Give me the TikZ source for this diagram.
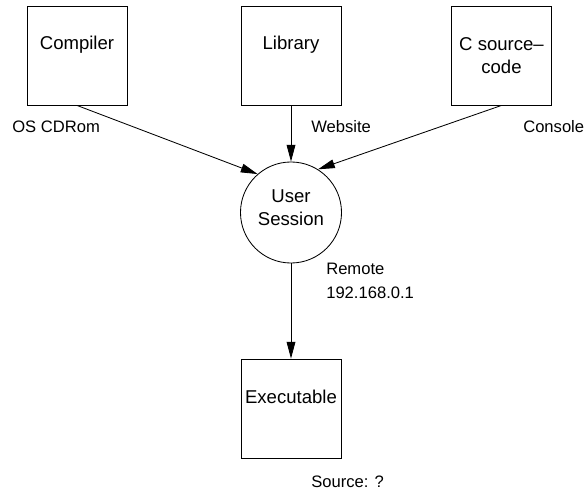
\documentclass[tikz,border=0pt]{standalone}
\usepackage{fontspec}
\setmainfont{Liberation Sans}
\usetikzlibrary{arrows.meta}

\begin{document}
\begin{tikzpicture}[x=0.025cm,y=-0.025cm,
  font=\fontsize{13.2}{16}\selectfont,
  box/.style={draw,line width=0.6pt,minimum width=2.5cm,minimum height=2.475cm,inner sep=0pt,align=center},
  boxtop/.style={box,text height=0.3cm,text depth=0.575cm},
  sess/.style={draw,circle,line width=0.6pt,minimum size=2.525cm,inner sep=0pt,align=center,text depth=0.25cm},
  arr/.style={line width=0.6pt,-{Triangle[length=0.42cm,width=0.22cm]}},
  lbl/.style={anchor=base west,inner sep=0pt,align=left,font=\fontsize{11.8}{16.5}\selectfont}]
\useasboundingbox (0,0) rectangle (584,491);
% where it comes from
\node[boxtop] (comp) at (77,55.5) {Compiler};
\node[boxtop] (lib) at (291,55.5) {Library};
\node[box] (csrc) at (501.5,55.5) {C source–\\code};
% session and result
\node[sess] (sess) at (291,212.5) {User\\Session};
\node[boxtop] (exe) at (291,408.5) {Executable};
% labels
\node[lbl] (lcd) at (12,133) {OS CDRom};
\node[lbl] (lweb) at (311,133) {Website};
\node[lbl] (lcon) at (523,133) {Console};
\node[lbl] (lrem) at (326,298) {Remote\\192.168.0.1};
\node[lbl] (lsrc) at (311,487) {Source: ?};
% arrows
\draw[arr] (comp.south) -- (sess.131);
\draw[arr] (lib.south) -- (sess.north);
\draw[arr] (csrc.south) -- (sess.58.5);
\draw[arr] (sess.south) -- (exe.north);
\end{tikzpicture}
\end{document}
